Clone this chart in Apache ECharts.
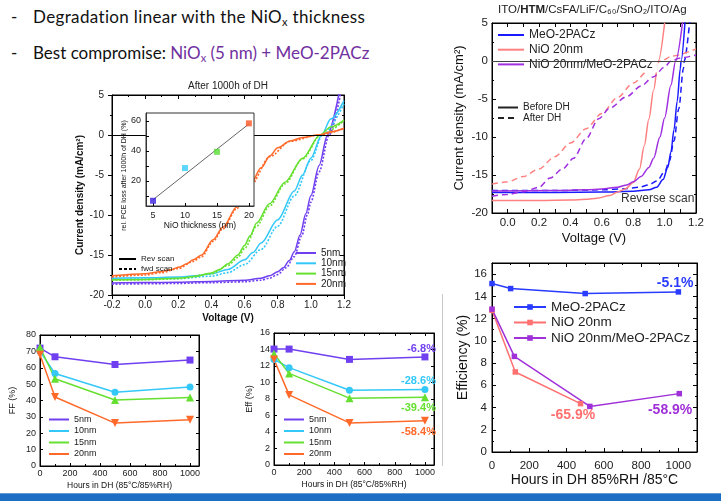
<!DOCTYPE html>
<html><head><meta charset="utf-8">
<script src="https://cdn.jsdelivr.net/npm/echarts@6/dist/echarts.min.js"></script>
<style>
html,body{margin:0;padding:0;background:#fff;width:721px;height:501px;overflow:hidden;position:relative}
.layer{position:absolute;left:0;top:0;width:721px;height:501px}
.txt{position:absolute;font-family:Lato,'Open Sans',sans-serif;font-size:17px;line-height:20px;color:#111;white-space:nowrap}
.txt sub{font-size:11px;vertical-align:-3px;line-height:0}
.pur{color:#7030a0}
</style></head><body>
<div class="txt" style="left:11px;top:7px">-</div>
<div class="txt" style="left:33px;top:7px;letter-spacing:0.35px">Degradation linear with the NiO<sub>x</sub> thickness</div>
<div class="txt" style="left:11px;top:43px">-</div>
<div class="txt" style="left:33px;top:43px">Best compromise: <span class="pur">NiO<sub>x</sub> (5 nm) + MeO-2PACz</span></div>
<div style="position:absolute;left:442px;top:294px;width:1px;height:172px;background:#c8c8c8"></div>
<div style="position:absolute;left:0;top:493px;width:721px;height:1px;background:#5d9ad8"></div>
<div style="position:absolute;left:0;top:494px;width:721px;height:7px;background:#1b6ec2"></div>
<div id="c1" class="layer"></div>
<div id="c2" class="layer"></div>
<div id="c3" class="layer"></div>
<div id="c4" class="layer"></div>
<div id="c5" class="layer"></div>
<div id="c6" class="layer"></div>
<script>
const FONT = 'Liberation Sans, Arial, sans-serif';

// ---------- Main J-V after 1000h of DH ----------
const jv5Rev = [[-0.2,-18.5],[0,-18.45],[0.2,-18.4],[0.4,-18.3],[0.6,-18.15],[0.7,-17.9],[0.75,-17.6],[0.8,-17.1],[0.834,-16.6],[0.87,-15.7],[0.9,-14.6],[0.935,-12.5],[0.97,-9.8],[1.0,-7.6],[1.05,-3.8],[1.1,0],[1.17,5.2]];
const jv5Fwd = [[-0.2,-18.65],[0,-18.6],[0.2,-18.55],[0.4,-18.45],[0.6,-18.35],[0.7,-18.15],[0.75,-17.9],[0.8,-17.45],[0.85,-16.6],[0.9,-15.2],[0.945,-12.6],[0.98,-9.9],[1.0,-8.4],[1.05,-4.6],[1.11,0],[1.18,5.2]];
const jv10Rev = [[-0.2,-17.9],[0,-17.85],[0.2,-17.75],[0.3,-17.6],[0.4,-17.35],[0.5,-16.8],[0.6,-15.6],[0.65,-14.7],[0.7,-13.5],[0.8,-10.6],[0.9,-7.0],[0.95,-5.0],[1.0,-2.9],[1.065,0],[1.12,2.0],[1.2,4.3]];
const jv10Fwd = [[-0.2,-18.05],[0,-18.0],[0.2,-17.95],[0.4,-17.65],[0.5,-17.2],[0.6,-16.2],[0.7,-14.3],[0.8,-11.4],[0.9,-7.6],[1.0,-3.2],[1.07,0],[1.2,3.9]];
const jv15Rev = [[-0.2,-18.1],[0,-18.05],[0.2,-17.9],[0.3,-17.7],[0.4,-17.25],[0.45,-16.8],[0.5,-16.1],[0.56,-15.0],[0.6,-13.8],[0.633,-12.6],[0.673,-11.0],[0.75,-8.6],[0.844,-5.9],[0.95,-2.9],[1.055,0],[1.12,1.0],[1.2,1.85]];
const jv15Fwd = [[-0.2,-18.15],[0,-18.1],[0.2,-17.95],[0.4,-17.35],[0.5,-16.3],[0.56,-15.3],[0.6,-14.2],[0.673,-11.4],[0.75,-8.9],[0.844,-6.1],[0.95,-3.0],[1.06,0],[1.2,1.8]];
const jv20Rev = [[-0.2,-17.6],[0,-17.35],[0.09,-17.1],[0.15,-16.85],[0.21,-16.5],[0.25,-16.1],[0.29,-15.6],[0.341,-15.0],[0.41,-13.1],[0.47,-11.5],[0.553,-9.0],[0.633,-6.3],[0.7,-4.1],[0.753,-2.6],[0.8,-1.6],[0.874,-0.75],[0.95,-0.3],[1.045,0],[1.12,0.4],[1.2,0.85]];
const jv20Fwd = [[-0.2,-17.75],[0,-17.5],[0.1,-17.2],[0.2,-16.7],[0.29,-15.8],[0.341,-15.2],[0.41,-13.3],[0.47,-11.7],[0.553,-9.2],[0.633,-6.4],[0.753,-2.7],[0.874,-0.8],[1.045,0],[1.2,0.8]];
const thicknessNames = ['5nm','10nm','15nm','20nm'];
const thicknessColors = ['#7040f0','#33c8f8','#66e030','#ff6a2a'];

// ---------- Inset: relative PCE loss ----------
const insetThickness = [5,10,15,20];
const insetLoss = [6.8,28.6,39.4,58.4];
const insetColors = ['#3a1ee0','#33ccff','#55dd33','#ff5522'];
const insetFit = [[5,7.5],[20,58]];

// ---------- Top right J-V ----------
const meoBefore = [[-0.1,-17.3],[0.3,-17.3],[0.6,-17.25],[0.8,-17.15],[0.9,-16.95],[0.95,-16.6],[0.99,-15.6],[1.02,-14.0],[1.04,-12.0],[1.06,-9.0],[1.08,-5.3],[1.1,-1.0],[1.105,0],[1.13,5.2]];
const meoAfter = [[-0.1,-17.05],[0.3,-17.05],[0.6,-16.95],[0.75,-16.8],[0.84,-16.6],[0.9,-16.3],[0.95,-15.8],[1.0,-14.6],[1.03,-13.2],[1.06,-10.5],[1.09,-6.3],[1.12,-1.0],[1.125,0],[1.16,5.2]];
const nioBefore = [[-0.1,-18.35],[0.2,-18.35],[0.4,-18.3],[0.5,-18.2],[0.57,-18.05],[0.65,-17.7],[0.7,-17.25],[0.75,-16.8],[0.8,-16.0],[0.84,-14.2],[0.87,-11.2],[0.9,-7.6],[0.93,-3.8],[0.96,0],[1.0,5.0]];
const nioAfter = [[-0.1,-16.2],[0,-15.9],[0.1,-15.2],[0.2,-14.2],[0.3,-12.6],[0.4,-10.8],[0.5,-8.9],[0.6,-6.9],[0.7,-4.8],[0.8,-2.9],[0.9,-1.2],[0.975,0],[1.05,0.65],[1.2,1.6]];
const bothBefore = [[-0.1,-17.1],[0.3,-17.05],[0.5,-16.95],[0.6,-16.85],[0.7,-16.6],[0.76,-16.3],[0.8,-15.9],[0.85,-15.2],[0.9,-14.0],[0.93,-12.8],[0.97,-10.0],[1.0,-7.5],[1.04,-3.2],[1.07,0],[1.115,5.2]];
const bothAfter = [[-0.1,-17.8],[0,-17.55],[0.1,-17.2],[0.2,-16.6],[0.27,-15.4],[0.35,-14.2],[0.42,-12.8],[0.5,-10.2],[0.58,-7.6],[0.65,-6.2],[0.757,-4.7],[0.85,-3.3],[0.927,-2.1],[1.0,-0.8],[1.04,0],[1.1,0.4],[1.2,0.8]];
const htmNames = ['MeO-2PACz','NiO 20nm','NiO 20nm/MeO-2PACz'];
const htmColors = ['#1a1aff','#ff8080','#a030e0'];

// ---------- FF and Eff vs hours ----------
const dhHours = [0,100,500,1000];
const ff5 = [72,66.7,62,64.7];
const ff10 = [70,56.5,45,48.2];
const ff15 = [72.5,53.3,40.3,41.9];
const ff20 = [68,42.1,26.2,28.3];
const eff5 = [14.05,14.05,12.8,13.1];
const eff10 = [12.8,11.8,9.07,9.15];
const eff15 = [13.5,11.1,8.1,8.2];
const eff20 = [12.8,8.5,5.1,5.35];
const effLossLabels = ['-6.8%','-28.6%','-39.4%','-58.4%'];
const thicknessSymbols = ['rect','circle','triangle','triangle'];
const thicknessRotate = [0,0,0,180];

// ---------- Bottom right efficiency ----------
const hoursMeo = [0,100,500,1000];
const effMeo = [15.15,14.7,14.25,14.4];
const hoursNio = [0,125,475];
const effNio = [12.75,7.2,4.35];
const hoursBoth = [0,120,525,1005];
const effBoth = [12.85,8.6,4.1,5.25];
const dhLossLabels = ['-5.1%','-65.9%','-58.9%'];

// ---------- helpers ----------
function merge(a, b) {
  const out = Object.assign({}, a);
  for (const k in b) {
    const v = b[k];
    if (v && typeof v === 'object' && !Array.isArray(v) && typeof v !== 'function' && a && a[k] && typeof a[k] === 'object' && !Array.isArray(a[k])) out[k] = merge(a[k], v);
    else out[k] = v;
  }
  return out;
}
const baseAxis = {
  type:'value', splitLine:{show:false},
  axisLine:{show:true, onZero:false, lineStyle:{color:'#000', width:1}},
  axisTick:{show:true, inside:true, length:4, lineStyle:{color:'#000', width:1}},
  minorTick:{show:false, length:2, lineStyle:{color:'#000', width:1}},
  axisLabel:{fontFamily:FONT, color:'#222', fontSize:10},
  nameTextStyle:{fontFamily:FONT, color:'#111'}
};
function ax(o){ return merge(baseAxis, o); }
function mirror(o){ return merge(baseAxis, merge({axisLabel:{show:false}}, o)); }
const zeroLine = {silent:true, symbol:['none','none'], label:{show:false}, animation:false, data:[{yAxis:0}]};

// ================= Chart 1: main J-V =================
const c1 = echarts.init(document.getElementById('c1'));
const xMain = {min:-0.2, max:1.2, interval:0.2, minorTick:{show:true, splitNumber:2}};
const yMain = {min:-20, max:5, interval:5, minorTick:{show:true, splitNumber:2}};
const jvRev = [jv5Rev, jv10Rev, jv15Rev, jv20Rev];
const jvFwd = [jv5Fwd, jv10Fwd, jv15Fwd, jv20Fwd];
const s1 = [];
thicknessNames.forEach((n,i)=>{
  s1.push({type:'line', name:n, data:jvRev[i], symbol:'none', smooth:0.3, smoothMonotone:'x',
    lineStyle:{color:thicknessColors[i], width:1.5}, itemStyle:{color:thicknessColors[i]}, z:3,
    markLine: i===0 ? merge(zeroLine, {lineStyle:{color:'#000', width:1.2, type:'solid'}}) : undefined});
  s1.push({type:'line', name:n+' fwd', data:jvFwd[i], symbol:'none', smooth:0.3, smoothMonotone:'x',
    lineStyle:{color:thicknessColors[i], width:1.6, type:[2,1.6]}, itemStyle:{color:thicknessColors[i]}, z:3});
});
s1.push({type:'line', name:'Rev scan', data:[], symbol:'none', lineStyle:{color:'#000', width:1.2}, itemStyle:{color:'#000'}});
s1.push({type:'line', name:'fwd scan', data:[], symbol:'none', lineStyle:{color:'#000', width:1.2, type:[3,2]}, itemStyle:{color:'#000'}});
c1.setOption({
  animation:false,
  grid:{left:112, top:95, width:232, height:200, show:true, borderColor:'#000', borderWidth:1},
  xAxis:[
    ax(merge(xMain, {position:'bottom', axisTick:{inside:false}, axisLabel:{formatter:v=>v.toFixed(1), margin:5},
      name:'Voltage (V)', nameLocation:'middle', nameGap:18, nameTextStyle:{fontSize:10, fontWeight:'bold'}})),
    mirror(merge(xMain, {position:'top'}))
  ],
  yAxis:[
    ax(merge(yMain, {position:'left', axisTick:{inside:false}, axisLabel:{margin:8},
      name:'Current density (mA/cm²)', nameLocation:'middle', nameGap:21, nameTextStyle:{fontSize:10, fontWeight:'bold'}})),
    mirror(merge(yMain, {position:'right'}))
  ],
  legend:[
    {data:thicknessNames, orient:'vertical', left:295, top:248, itemWidth:20, itemHeight:8, itemGap:0.3, padding:0,
      selectedMode:false, itemStyle:{opacity:0}, textStyle:{fontFamily:FONT, fontSize:10, color:'#222'}},
    {data:['Rev scan','fwd scan'], orient:'vertical', left:118, top:255, itemWidth:17, itemHeight:6, itemGap:2, padding:0,
      selectedMode:false, itemStyle:{opacity:0}, textStyle:{fontFamily:FONT, fontSize:8, color:'#222'}}
  ],
  graphic:[{type:'text', left:188, top:81, style:{text:'After 1000h of DH', fontFamily:FONT, fontSize:10, fill:'#222'}}],
  series:s1
});

// ================= Chart 2: inset =================
const c2 = echarts.init(document.getElementById('c2'));
c2.setOption({
  animation:false,
  grid:{left:146, top:113, width:108, height:93, show:true, backgroundColor:'#fff', borderColor:'#333', borderWidth:1},
  xAxis: ax({min:3.9, max:20.8, axisLine:{lineStyle:{color:'#333'}}, axisTick:{length:3, customValues:insetThickness},
    axisLabel:{customValues:insetThickness, fontSize:9, margin:5},
    name:'NiO thickness (nm)', nameLocation:'middle', nameGap:15, nameTextStyle:{fontSize:8.5}}),
  yAxis: ax({min:3.3, max:65.3, axisLine:{lineStyle:{color:'#333'}}, axisTick:{length:3, customValues:[10,20,30,40,50,60]},
    axisLabel:{customValues:[20,40,60], fontSize:9, margin:5},
    name:'rel. PCE loss after 1000h of DH (%)', nameLocation:'middle', nameGap:15,
    nameTextStyle:{fontSize:7, padding:[0,32,0,0]}}),
  series:[
    {type:'line', data:insetFit, symbol:'none', lineStyle:{color:'#666', width:1}, z:2},
    {type:'scatter', symbol:'rect', symbolSize:6, z:3,
      data:insetThickness.map((t,i)=>({value:[t, insetLoss[i]], itemStyle:{color:insetColors[i]}}))}
  ]
});

// ================= Chart 3: top-right J-V =================
const c3 = echarts.init(document.getElementById('c3'));
const xTR = {min:-0.1, max:1.2, interval:0.1};
const yTR = {min:-20, max:5, interval:5, minorTick:{show:true, splitNumber:2}};
const trBefore = [meoBefore, nioBefore, bothBefore];
const trAfter = [meoAfter, nioAfter, bothAfter];
const s3 = [];
htmNames.forEach((n,i)=>{
  s3.push({type:'line', name:n, data:trBefore[i], symbol:'none', smooth:0.3, smoothMonotone:'x',
    lineStyle:{color:htmColors[i], width:1.5}, itemStyle:{color:htmColors[i]}, z:3,
    markLine: i===0 ? merge(zeroLine, {lineStyle:{color:'#444', width:1.2, type:'solid'}}) : undefined});
  s3.push({type:'line', name:n+' after', data:trAfter[i], symbol:'none', smooth:0.3, smoothMonotone:'x',
    lineStyle:{color:htmColors[i], width:1.5, type:[6,4]}, itemStyle:{color:htmColors[i]}, z:3});
});
s3.push({type:'line', name:'Before DH', data:[], symbol:'none', lineStyle:{color:'#222', width:1.5}, itemStyle:{color:'#222'}});
s3.push({type:'line', name:'After DH', data:[], symbol:'none', lineStyle:{color:'#222', width:1.5, type:[6,4]}, itemStyle:{color:'#222'}});
c3.setOption({
  animation:false,
  grid:{left:492, top:23, width:204, height:190, show:true, borderColor:'#000', borderWidth:1},
  xAxis:[
    ax(merge(xTR, {position:'bottom', axisLabel:{interval:0, fontSize:11.5, margin:4,
      formatter:v=>{const k=Math.round(v*10); return (k>=0 && k%2===0) ? (k/10).toFixed(1) : '';}},
      name:'Voltage (V)', nameLocation:'middle', nameGap:19, nameTextStyle:{fontSize:13}})),
    mirror(merge(xTR, {position:'top'}))
  ],
  yAxis:[
    ax(merge(yTR, {position:'left', axisLabel:{fontSize:11.5, margin:4},
      name:'Current density (mA/cm²)', nameLocation:'middle', nameGap:26, nameTextStyle:{fontSize:13}})),
    mirror(merge(yTR, {position:'right'}))
  ],
  legend:[
    {data:htmNames, orient:'vertical', left:495, top:28, itemWidth:26, itemHeight:8, itemGap:2.7, padding:[1,5,2,2],
      backgroundColor:'#fff', selectedMode:false, itemStyle:{opacity:0}, textStyle:{fontFamily:FONT, fontSize:12, color:'#222'}},
    {data:['Before DH','After DH'], orient:'vertical', left:497, top:102.5, itemWidth:20, itemHeight:8, itemGap:0.5, padding:0,
      selectedMode:false, itemStyle:{opacity:0}, textStyle:{fontFamily:FONT, fontSize:10, color:'#222'}}
  ],
  graphic:[
    {type:'text', left:498, top:4, style:{text:'{a|ITO/}{b|HTM}{a|/CsFA/LiF/C₆₀/SnO₂/ITO/Ag}', fill:'#222',
      rich:{a:{fontFamily:FONT, fontSize:11.5, fill:'#222'}, b:{fontFamily:FONT, fontSize:11.5, fontWeight:'bold', fill:'#222'}}}},
    {type:'text', left:621, top:193, style:{text:'Reverse scan', fontFamily:FONT, fontSize:12, fill:'#333'}}
  ],
  series:s3
});

// ================= Charts 4 & 5: FF and Eff =================
function smallChart(el, gridPos, yOpt, yName, yNameGap, yVals, endLabels, legendLeft) {
  const c = echarts.init(document.getElementById(el));
  const xS = {min:0, max:1060, interval:200, minorTick:{show:true, splitNumber:2}};
  const series = thicknessNames.map((n,i)=>{
    const ys = yVals[i];
    const data = dhHours.map((h,j)=>{
      if (endLabels && j===dhHours.length-1) {
        const L = endLabels[i];
        return {value:[h, ys[j]], label:{show:true, formatter:L.text, position:'inside', offset:L.offset, align:'right',
          color:thicknessColors[i], fontWeight:'bold', fontSize:11, fontFamily:FONT}};
      }
      return [h, ys[j]];
    });
    return {type:'line', name:n, data, symbol:thicknessSymbols[i], symbolRotate:thicknessRotate[i],
      symbolSize: thicknessSymbols[i]==='triangle' ? 8 : 7,
      lineStyle:{color:thicknessColors[i], width:1.5}, itemStyle:{color:thicknessColors[i]}, z:3};
  });
  c.setOption({
    animation:false,
    grid:merge(gridPos, {show:true, borderColor:'#000', borderWidth:1}),
    xAxis:[
      ax(merge(xS, {position:'bottom', axisTick:{length:3}, axisLabel:{fontSize:9, margin:3, formatter:v=> v>1000 ? '' : String(v)},
        name:'Hours in DH (85°C/85%RH)', nameLocation:'middle', nameGap:15, nameTextStyle:{fontSize:8.5}})),
      mirror(merge(xS, {position:'top', axisTick:{length:3}}))
    ],
    yAxis:[
      ax(merge(yOpt, {position:'left', axisTick:{length:3}, axisLabel:{fontSize:9, margin:4},
        name:yName, nameLocation:'middle', nameGap:yNameGap, nameTextStyle:{fontSize:9}})),
      mirror(merge(yOpt, {position:'right', axisTick:{length:3}}))
    ],
    legend:{data:thicknessNames, orient:'vertical', left:legendLeft, top:415, itemWidth:20, itemHeight:8, itemGap:2.5, padding:0,
      selectedMode:false, itemStyle:{opacity:0}, textStyle:{fontFamily:FONT, fontSize:9, color:'#222'}},
    series
  });
  return c;
}
smallChart('c4', {left:40, top:335, width:159, height:131}, {min:0, max:80, interval:10}, 'FF (%)', 23,
  [ff5, ff10, ff15, ff20], null, 48);
smallChart('c5', {left:274, top:333, width:160, height:132}, {min:0, max:16, interval:2}, 'Eff (%)', 20,
  [eff5, eff10, eff15, eff20],
  [{text:effLossLabels[0], offset:[11,-7.5]}, {text:effLossLabels[1], offset:[11,-8.5]},
   {text:effLossLabels[2], offset:[11,11]}, {text:effLossLabels[3], offset:[11,11.5]}], 283);

// ================= Chart 6: bottom-right efficiency =================
const c6 = echarts.init(document.getElementById('c6'));
const x6 = {min:0, max:1100, interval:200, minorTick:{show:true, splitNumber:2}};
const y6 = {min:0, max:17, interval:2, minorTick:{show:true, splitNumber:2}};
function endLabel(xs, ys, text, color, offset, align) {
  return xs.map((x,j)=> j===xs.length-1 ? {value:[x, ys[j]], label:{show:true, formatter:text, position:'inside', offset, align,
    color, fontWeight:'bold', fontSize:14, fontFamily:FONT}} : [x, ys[j]]);
}
c6.setOption({
  animation:false,
  grid:{left:492, top:263, width:205, height:189, show:true, borderColor:'#000', borderWidth:1},
  xAxis:[
    ax(merge(x6, {position:'bottom', axisLabel:{fontSize:11.5, margin:8, formatter:v=> v>1000 ? '' : String(v)},
      name:'Hours in DH 85%RH /85°C', nameLocation:'middle', nameGap:21, nameTextStyle:{fontSize:14}})),
    mirror(merge(x6, {position:'top'}))
  ],
  yAxis:[
    ax(merge(y6, {position:'left', axisLabel:{fontSize:11.5, margin:5, formatter:v=> v>16 ? '' : String(v)},
      name:'Efficiency (%)', nameLocation:'middle', nameGap:19, nameTextStyle:{fontSize:14}})),
    mirror(merge(y6, {position:'right'}))
  ],
  legend:{data:htmNames, orient:'vertical', left:513, top:300, itemWidth:32, itemHeight:7, itemGap:1.5, padding:0,
    selectedMode:false, textStyle:{fontFamily:FONT, fontSize:13.5, color:'#222'}},
  series:[
    {type:'line', name:htmNames[0], data:endLabel(hoursMeo, effMeo, dhLossLabels[0], '#2a3cff', [15,-9], 'right'),
      symbol:'rect', symbolSize:5.5, lineStyle:{color:'#2a3cff', width:1.5}, itemStyle:{color:'#2a3cff'}, z:3},
    {type:'line', name:htmNames[1], data:endLabel(hoursNio, effNio, dhLossLabels[1], '#ff7070', [-7.5,11.5], 'center'),
      symbol:'rect', symbolSize:5.5, lineStyle:{color:'#ff7070', width:1.5}, itemStyle:{color:'#ff7070'}, z:3},
    {type:'line', name:htmNames[2], data:endLabel(hoursBoth, effBoth, dhLossLabels[2], '#a030d8', [13,16.5], 'right'),
      symbol:'rect', symbolSize:5.5, lineStyle:{color:'#a030d8', width:1.5}, itemStyle:{color:'#a030d8'}, z:3}
  ]
});
</script>
</body></html>
